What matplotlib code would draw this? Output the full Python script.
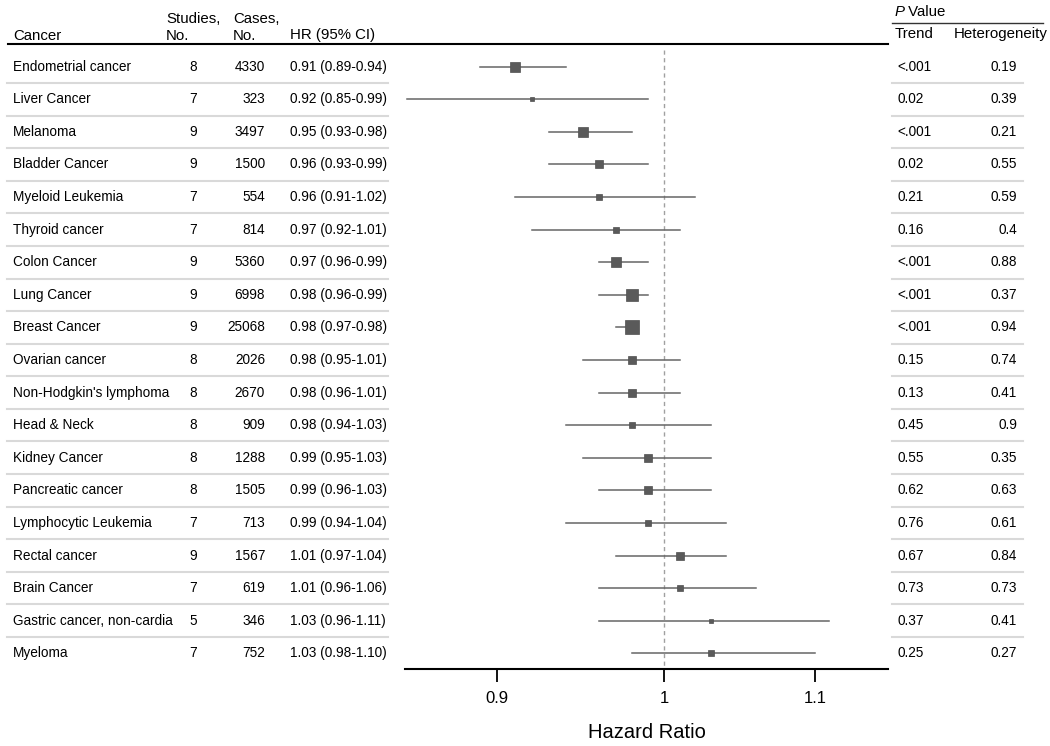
import matplotlib
matplotlib.use("Agg")
import matplotlib.pyplot as plt
import numpy as np
from matplotlib.lines import Line2D
from matplotlib.transforms import blended_transform_factory

plt.rcParams['font.family'] = ['Liberation Sans', 'DejaVu Sans']

# data
cancers = ["Endometrial cancer", "Liver Cancer", "Melanoma", "Bladder Cancer",
           "Myeloid Leukemia", "Thyroid cancer", "Colon Cancer", "Lung Cancer",
           "Breast Cancer", "Ovarian cancer", "Non-Hodgkin's lymphoma", "Head & Neck",
           "Kidney Cancer", "Pancreatic cancer", "Lymphocytic Leukemia", "Rectal cancer",
           "Brain Cancer", "Gastric cancer, non-cardia", "Myeloma"]
studies = [8, 7, 9, 9, 7, 7, 9, 9, 9, 8, 8, 8, 8, 8, 7, 9, 7, 5, 7]
cases = [4330, 323, 3497, 1500, 554, 814, 5360, 6998, 25068, 2026, 2670, 909,
         1288, 1505, 713, 1567, 619, 346, 752]
hr = [0.91, 0.92, 0.95, 0.96, 0.96, 0.97, 0.97, 0.98, 0.98, 0.98, 0.98, 0.98,
      0.99, 0.99, 0.99, 1.01, 1.01, 1.03, 1.03]
ci_lo = [0.89, 0.85, 0.93, 0.93, 0.91, 0.92, 0.96, 0.96, 0.97, 0.95, 0.96, 0.94,
         0.95, 0.96, 0.94, 0.97, 0.96, 0.96, 0.98]
ci_hi = [0.94, 0.99, 0.98, 0.99, 1.02, 1.01, 0.99, 0.99, 0.98, 1.01, 1.01, 1.03,
         1.03, 1.03, 1.04, 1.04, 1.06, 1.11, 1.10]
p_trend = ["<.001", "0.02", "<.001", "0.02", "0.21", "0.16", "<.001", "<.001", "<.001",
           "0.15", "0.13", "0.45", "0.55", "0.62", "0.76", "0.67", "0.73", "0.37", "0.25"]
p_het = ["0.19", "0.39", "0.21", "0.55", "0.59", "0.4", "0.88", "0.37", "0.94",
         "0.74", "0.41", "0.9", "0.35", "0.63", "0.61", "0.84", "0.73", "0.41", "0.27"]
xticks = [0.9, 1, 1.1]
xticklabels = ["0.9", "1", "1.1"]

W, H = 1050, 746
fig = plt.figure(figsize=(W / 100, H / 100), dpi=100)


def fx(px):
    return px / W


def fy(py):
    return 1 - py / H


row0, step = 66.7, 32.59
ax_top, ax_bot = 44, 669
ax = fig.add_axes([fx(405), fy(ax_bot), fx(888 - 405), (ax_bot - ax_top) / H])
n = len(cancers)
y = np.arange(n)
ax.set_ylim((ax_bot - row0) / step, (ax_top - row0) / step)
ax.set_xscale('log')
ax.set_xlim(0.849, 1.152)

for s in ['left', 'right', 'top']:
    ax.spines[s].set_visible(False)
ax.spines['bottom'].set_linewidth(1.5)
ax.set_yticks([])
ax.set_xticks(xticks)
ax.set_xticklabels(xticklabels, fontsize=12)
ax.minorticks_off()
ax.tick_params(axis='x', length=9, width=1.3, pad=7)
ax.set_xlabel("Hazard Ratio", fontsize=14.5, labelpad=12)

# reference line
ax.plot([1, 1], [(50 - row0) / step, ax.get_ylim()[0]], color='#a0a0a0', lw=1,
        dashes=(3, 2.5), zorder=1)

# CIs and boxes, box side grows with log(cases)
side_px = 2.3 * np.log(np.array(cases)) - 9.3
for i in range(n):
    ax.plot([ci_lo[i], ci_hi[i]], [y[i], y[i]], color='#666666', lw=1.1, zorder=2)
    ax.plot(hr[i], y[i], marker='s', ms=side_px[i] * 0.72, color='#5a5a5a',
            mec='#505050', mew=0.5, zorder=3)

trans = blended_transform_factory(fig.transFigure, ax.transData)
fs = 9.8
for i in range(n):
    ax.text(fx(13), y[i], cancers[i], transform=trans, fontsize=fs, va='center', clip_on=False)
    ax.text(fx(197), y[i], str(studies[i]), transform=trans, fontsize=fs, va='center',
            ha='right', clip_on=False)
    ax.text(fx(265), y[i], str(cases[i]), transform=trans, fontsize=fs, va='center',
            ha='right', clip_on=False)
    ax.text(fx(290), y[i], f"{hr[i]:.2f} ({ci_lo[i]:.2f}-{ci_hi[i]:.2f})", transform=trans,
            fontsize=fs, va='center', clip_on=False)
    ax.text(fx(897), y[i], p_trend[i], transform=trans, fontsize=fs, va='center', clip_on=False)
    ax.text(fx(1017), y[i], p_het[i], transform=trans, fontsize=fs, va='center', ha='right',
            clip_on=False)

# row separators
for i in range(n - 1):
    for x0, x1 in [(7, 388), (892, 1023)]:
        ax.plot([fx(x0), fx(x1)], [i + 0.5, i + 0.5], transform=trans, color='#d9d9d9',
                lw=1.5, clip_on=False, zorder=0)

# header
hfs = 10.8
fig.text(fx(13), fy(39.5), "Cancer", fontsize=hfs, va='baseline')
fig.text(fx(166), fy(23), "Studies,", fontsize=hfs, va='baseline')
fig.text(fx(166), fy(39.5), "No.", fontsize=hfs, va='baseline')
fig.text(fx(233), fy(23), "Cases,", fontsize=hfs, va='baseline')
fig.text(fx(233), fy(39.5), "No.", fontsize=hfs, va='baseline')
fig.text(fx(290), fy(39.5), "HR (95% CI)", fontsize=hfs, va='baseline')
fig.text(fx(895), fy(38), "Trend", fontsize=hfs, va='baseline')
fig.text(fx(954), fy(38), "Heterogeneity", fontsize=hfs, va='baseline')
fig.text(fx(895), fy(16), "P", fontsize=hfs, va='baseline', style='italic')
fig.text(fx(904), fy(16), " Value", fontsize=hfs, va='baseline')

fig.add_artist(Line2D([fx(8), fx(888)], [fy(44), fy(44)], color='black', lw=1.5))
fig.add_artist(Line2D([fx(892), fx(1043)], [fy(23), fy(23)], color='#333333', lw=1))

fig.savefig("out.png", dpi=100)
